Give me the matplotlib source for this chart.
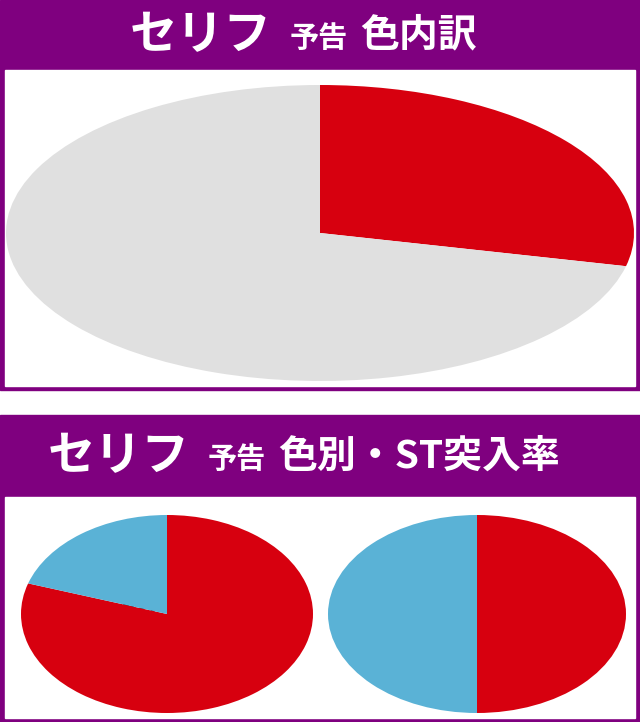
import matplotlib
matplotlib.use("Agg")
import matplotlib.pyplot as plt
from matplotlib.patches import Rectangle
import matplotlib.patheffects as pe

plt.rcParams['font.family'] = ['Noto Sans CJK JP', 'DejaVu Sans']

top_labels = ["赤", "白"]
top_values = [28.6, 71.4]
top_counts = [2, 5]
bottom_cats = ["白", "赤"]
bottom_st = [80.0, 50.0]
bottom_counts = [4, 1]

PURPLE = "#7f007f"
RED = "#d7000f"
GREY = "#e0e0e0"
BLUE = "#5ab2d6"

W, H = 640, 722
fig = plt.figure(figsize=(6.4, 7.22), dpi=100)
bg = fig.add_axes([0, 0, 1, 1])
bg.set_xlim(0, W); bg.set_ylim(H, 0); bg.axis('off')

def box(y0, y1, hdr):
    bg.add_patch(Rectangle((0, y0), W, y1 - y0, color=PURPLE))
    bg.add_patch(Rectangle((5, hdr), W - 10, y1 - hdr - 4, color='white'))

box(0, 390, 70)
box(415, 722, 497)

def header(y, x0, rest):
    bg.text(x0, y, "セリフ", color='white', fontsize=34, fontweight='bold', va='center', ha='left')
    bg.text(x0 + 160, y + 3, "予告", color='white', fontsize=21, fontweight='bold', va='center', ha='left')
    bg.text(x0 + 230, y, rest, color='white', fontsize=28, fontweight='bold', va='center', ha='left')

header(35, 130, "色内訳")
header(456, 48, "色別・ST突入率")

def pie_ax(cx, cy, w, h, vals, cols):
    ax = fig.add_axes([(cx - w/2)/W, 1 - (cy + h/2)/H, w/W, h/H])
    ax.pie(vals, colors=cols, startangle=90, counterclock=False,
           wedgeprops=dict(linewidth=0))
    ax.set_aspect('auto')
    ax.set_xlim(-1, 1); ax.set_ylim(-1, 1)
    ax.axis('off')
    return ax

pie_ax(320, 233, 628, 296, top_values, [RED, GREY])
pie_ax(167, 614, 292, 198, [bottom_st[0], 100 - bottom_st[0]], [RED, BLUE])
pie_ax(477, 614, 298, 198, [bottom_st[1], 100 - bottom_st[1]], [RED, BLUE])

stroke = [pe.withStroke(linewidth=5, foreground='white')]
def lab(x, y, s, fs):
    bg.text(x, y, s, fontsize=fs, fontweight='bold', color='#111111', ha='center', va='center',
            path_effects=stroke, zorder=10)

lab(465, 160, top_labels[0], 24)
lab(465, 210, f"約{top_values[0]}%({top_counts[0]}回)", 20)
lab(213, 232, top_labels[1], 24)
lab(213, 282, f"約{top_values[1]}%({top_counts[1]}回)", 20)

for cx, cat, v, c in zip([167, 477], bottom_cats, bottom_st, bottom_counts):
    lab(cx, 565, cat, 24)
    lab(cx, 610, f"{v:.1f}%", 22)
    lab(cx, 654, f"({c}回)", 17)

fig.savefig("out.png", dpi=100)
